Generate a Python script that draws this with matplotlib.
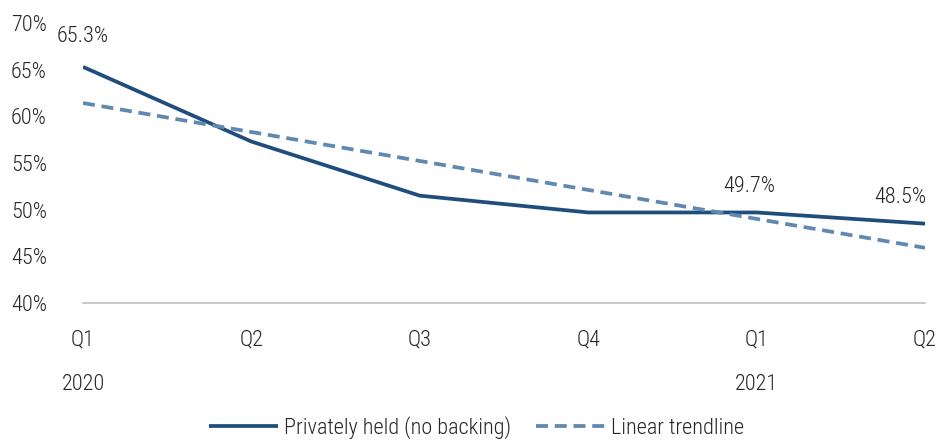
import matplotlib.pyplot as plt
import numpy as np

quarters = ['Q1', 'Q2', 'Q3', 'Q4', 'Q1', 'Q2']
years = {0: '2020', 4: '2021'}
share = [65.3, 57.3, 51.5, 49.7, 49.7, 48.5]
labelled = [0, 4, 5]

plt.rcParams['font.family'] = ['Roboto Condensed', 'Asap Condensed', 'Barlow Semi Condensed', 'DejaVu Sans']
plt.rcParams['font.weight'] = 'light'
fs = 16
ink = '#262626'

x = np.arange(len(share))
slope, icpt = np.polyfit(x, share, 1)
trend = slope * x + icpt

fig = plt.figure(figsize=(9.53, 4.4), dpi=100)
ax = fig.add_axes([0.0871, 0.3114, 0.8835, 0.6363])

ax.plot(x, share, color='#1f4e7d', lw=2.7, label='Privately held (no backing)', solid_capstyle='butt')
ax.plot(x, trend, color='#6089b0', lw=2.7, ls=(0, (3.2, 1.8)), label='Linear trendline')

offsets = {0: (0, 14), 4: (-5, 11), 5: (-18, 11)}
for i in labelled:
    ax.annotate(f'{share[i]:.1f}%', (x[i], share[i]), xytext=offsets[i], textcoords='offset points',
                ha='center', va='bottom', fontsize=fs, color=ink)

ax.set_xlim(0, 5)
ax.set_ylim(40, 70)
ax.set_yticks(np.arange(40, 71, 5))
ax.set_yticklabels([f'{v}%' for v in range(40, 71, 5)])
ax.set_xticks(x)
ax.set_xticklabels(quarters)
ax.tick_params(axis='y', length=0, pad=26, labelsize=fs, labelcolor=ink)
ax.tick_params(axis='x', length=0, pad=19, labelsize=fs, labelcolor=ink)
for s in ['top', 'right', 'left']:
    ax.spines[s].set_visible(False)
ax.spines['bottom'].set_color('#bfbfbf')
ax.spines['bottom'].set_linewidth(1.2)
ax.set_facecolor('none')

for i, yr in years.items():
    ax.text(x[i], -0.29, yr, transform=ax.get_xaxis_transform(), ha='center', va='center',
            fontsize=fs, color=ink)

fig.legend(loc='center', bbox_to_anchor=(0.5, 0.028), ncol=2, frameon=False, fontsize=fs,
           handlelength=3.1, handletextpad=0.3, columnspacing=1.1, labelcolor=ink)

fig.savefig('out.png', dpi=100)
